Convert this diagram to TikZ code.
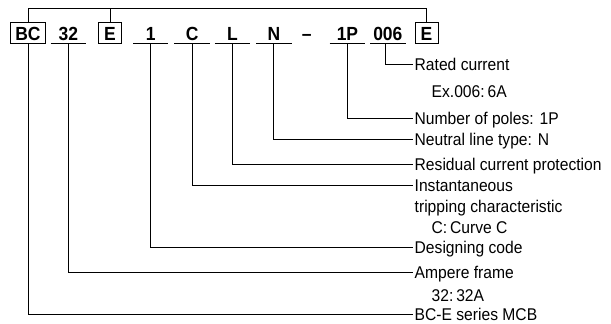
\documentclass[tikz,border=0pt]{standalone}
\usepackage{fontspec}
\setmainfont{Liberation Sans}[FakeStretch=0.92]
\usetikzlibrary{positioning}

\begin{document}
\begin{tikzpicture}[x=1pt, y=-1pt,
        codebox/.style={draw, line width=1pt, font=\fontsize{19}{20}\selectfont\bfseries, text height=13.8pt, text depth=0pt, inner xsep=4.5pt, inner ysep=3.8pt, minimum width=23pt},
        codeline/.style={font=\fontsize{19}{20}\selectfont\bfseries, text height=13.8pt, text depth=0pt, inner xsep=0pt, inner ysep=2.8pt, minimum width=35pt},
        desc/.style={anchor=west, font=\fontsize{17}{19}\selectfont, text height=12.2pt, text depth=0pt, inner xsep=1.5pt, inner ysep=0pt},
        lead/.style={draw, line width=1pt}
        ]
        \useasboundingbox (0,0) rectangle (611,324);

        % Code row
        \node (cBC) [codebox, anchor=base] at (28,40) {BC};
        \node (c32) [codeline, right=5pt of cBC] {32};
        \node (cE1) [codebox, right=12pt of c32] {E};
        \node (c1) [codeline, right=11pt of cE1] {1};
        \node (cC) [codeline, right=6pt of c1] {C};
        \node (cL) [codeline, right=5pt of cC] {L};
        \node (cN) [codeline, right=6pt of cL] {N};
        \node (cdash) [codeline, minimum width=0pt, right=10pt of cN] {\textendash};
        \node (c1P) [codeline, right=18pt of cdash] {1P};
        \node (c006) [codeline, right=5pt of c1P] {006};
        \node (cE2) [codebox, right=9pt of c006] {E};

        \foreach \n in {c32,c1,cC,cL,cN,c1P,c006}
            \draw [lead] (\n.south west) -- (\n.south east);

        % Descriptions
        \node (rated) [desc] at (413,64) {Rated current};
        \node (exrated) [desc] at (430,91) {Ex.006:\,6A};
        \node (poles) [desc] at (413,118) {Number of poles: 1P};
        \node (neutral) [desc] at (413,139) {Neutral line type: N};
        \node (residual) [desc] at (413,164) {Residual current protection};
        \node (instant) [desc] at (413,185) {Instantaneous};
        \node (tripping) [desc] at (413,206) {tripping characteristic};
        \node (curve) [desc] at (430,227) {C:\,Curve C};
        \node (design) [desc] at (413,247) {Designing code};
        \node (ampere) [desc] at (413,272) {Ampere frame};
        \node (amp32) [desc] at (430,295) {32:\,32A};
        \node (series) [desc] at (413,314.5) {BC-E series MCB};

        % Leaders
        \draw [lead] (cBC.north) -- ++(0,-13) coordinate (top) -| (cE2.north);
        \draw [lead] (cE1.north) -- (cE1.north |- top);
        \draw [lead] (cBC.south) |- (series.west);
        \draw [lead] (c32.south) |- (ampere.west);
        \draw [lead] (c1.south) |- (design.west);
        \draw [lead] (cC.south) |- (instant.west);
        \draw [lead] (cL.south) |- (residual.west);
        \draw [lead] (cN.south) |- (neutral.west);
        \draw [lead] (c1P.south) |- (poles.west);
        \draw [lead] ([xshift=-2.5pt]c006.south) |- (rated.west);

    \end{tikzpicture}
\end{document}
